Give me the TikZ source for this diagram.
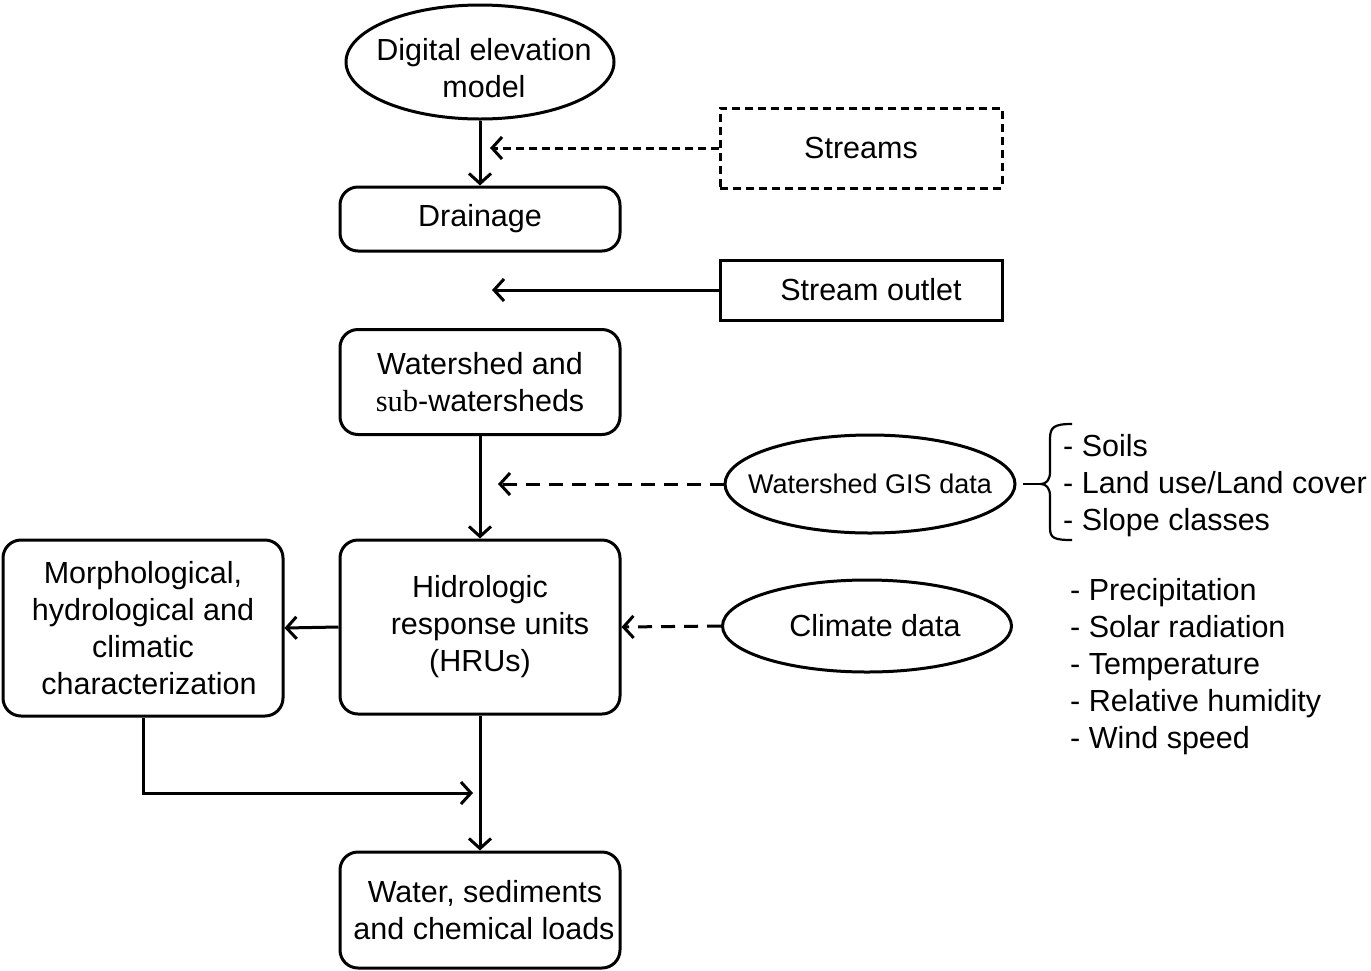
\documentclass[tikz,border=0pt]{standalone}
\usepackage{fontspec}
\setmainfont{Liberation Sans}
\newfontfamily\serifsub{Liberation Serif}
\usetikzlibrary{shapes.geometric,arrows.meta}
\tikzset{
  lab/.style={font=\fontsize{30.5}{37}\selectfont, align=center, inner sep=0pt},
  rbox/.style={lab, draw, line width=3pt, rounded corners=18pt, minimum width=280pt},
  sbox/.style={lab, draw, line width=3pt, minimum width=282pt},
  ell/.style={draw, line width=3pt, ellipse, inner sep=0pt},
  conn/.style={line width=3pt, -{Straight Barb[length=10pt,width=22pt]}},
  dconn/.style={conn, dash pattern=on 14pt off 9pt},
  sdconn/.style={conn, dash pattern=on 8pt off 5pt},
  listtxt/.style={font=\fontsize{30.5}{37}\selectfont, align=left, inner sep=0pt, anchor=west}
}
\begin{document}
\begin{tikzpicture}[x=1pt,y=-1pt]
\useasboundingbox (0,0) rectangle (1371,970);
% nodes
\node[ell, minimum width=268pt, minimum height=114pt,
  label={[lab, yshift=-6pt, xshift=4pt]center:Digital elevation\\model}] (dem) at (480,62) {};
\node[sbox, minimum height=80pt, dash pattern=on 8pt off 5pt] (streams) at (861,148) {Streams};
\node[rbox, minimum height=64pt] (drain) at (480,219) {Drainage};
\node[sbox, minimum height=60pt] (outlet) at (861,290) {\hspace*{20pt}Stream outlet};
\node[rbox, minimum height=105pt] (ws) at (480,382) {Watershed and\\{\serifsub sub}-watersheds};
\node[ell, minimum width=290pt, minimum height=98pt,
  label={[lab, font=\fontsize{27}{33}\selectfont]center:Watershed GIS data}] (gis) at (870,484) {};
\node[rbox, minimum height=174pt] (hru) at (480,627) {Hidrologic\\\hspace*{20pt}response units\\(HRUs)};
\node[rbox, minimum height=176pt] (morph) at (143,628) {Morphological,\\hydrological and\\climatic\\\hspace*{12pt}characterization};
\node[ell, minimum width=289pt, minimum height=92pt,
  label={[lab, xshift=8pt]center:Climate data}] (clim) at (867,626) {};
\node[rbox, minimum height=116pt] (water) at (480,910) {\hspace*{10pt}Water, sediments\\\hspace*{8pt}and chemical loads};
% lists
\node[listtxt] (gislist) at (1063,486) {- Soils\\- Land use/Land cover\\- Slope classes};
\node[listtxt] (climlist) at (1070,667) {- Precipitation\\- Solar radiation\\- Temperature\\- Relative humidity\\- Wind speed};
% free-end coordinates
\coordinate (s1) at (490,148);
\coordinate (s2) at (492,290);
\coordinate (s3) at (498,484);
\coordinate (mj) at (473,793);
\coordinate (bt) at (1023,484);
% connectors
\draw[conn] (dem.south) -- (drain.north);
\draw[sdconn] (streams.west) -- (s1);
\draw[conn] (outlet.west) -- (s2);
\draw[conn] (ws.south) -- (hru.north);
\draw[dconn] (gis.west) -- (s3);
\draw[dconn] (clim.west) -- (hru.east);
\draw[conn] (hru.west) -- (morph.east);
\draw[conn] (hru.south) -- (water.north);
\draw[conn] (morph.south) |- (mj);
% brace
\draw[line width=2.2pt] (bt) -- (1041,484);
\draw[line width=2.2pt] (1072,424) .. controls (1054,424) and (1050,427) .. (1050,439) -- (1050,472) .. controls (1050,480) and (1046,484) .. (1041,484) .. controls (1046,484) and (1050,488) .. (1050,496) -- (1050,528) .. controls (1050,538) and (1054,540) .. (1072,540);
\end{tikzpicture}
\end{document}
